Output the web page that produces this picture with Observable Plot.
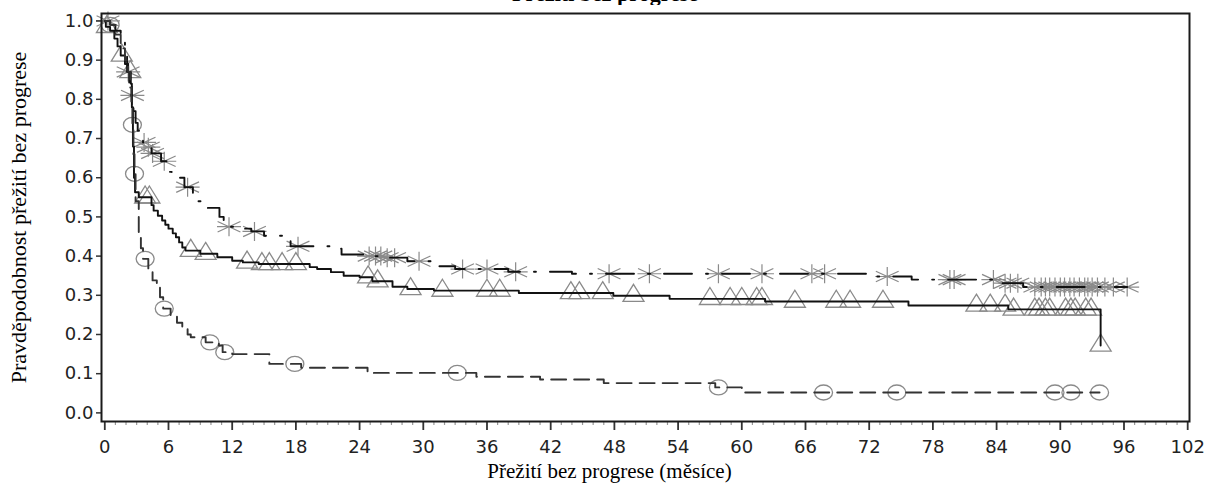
<!DOCTYPE html>
<html><head><meta charset="utf-8">
<script src="https://cdn.jsdelivr.net/npm/d3@7"></script>
<script src="https://cdn.jsdelivr.net/npm/@observablehq/plot@0.6"></script>
<style>
body{margin:0;background:#fff;width:1206px;height:486px;overflow:hidden;position:relative}
#title{position:absolute;left:0;top:0;width:1206px;height:5px;overflow:hidden;z-index:2}
#title span{position:absolute;left:512px;top:-19px;font:bold 22px "Liberation Serif";white-space:nowrap;color:#000}
#chart svg{display:block}
</style></head><body>
<div id="title"><span>Přežití bez progrese</span></div>
<div id="chart"></div>
<script>
// ---- data (months, survival probability) ----
const groups = ["trojúhelník", "hvězdička", "kroužek"];

const triTimes = [0,0.1,0.5,0.9,1.2,1.5,1.9,2.2,2.45,2.55,2.65,2.75,2.85,3.2,4.4,4.6,5.0,5.4,5.7,6.0,6.4,6.7,7.0,7.3,7.6,9.0,10.6,12.0,13.0,14.5,19.3,20.0,21.3,22.5,24.0,25.2,27.1,28.5,31.0,39.0,47.9,53.2,62.2,75.7,85.1,93.8];
const triSurv  = [1,0.985,0.975,0.955,0.935,0.912,0.89,0.87,0.84,0.78,0.68,0.6,0.563,0.55,0.53,0.516,0.503,0.491,0.48,0.47,0.458,0.448,0.435,0.422,0.414,0.406,0.397,0.388,0.384,0.38,0.372,0.367,0.359,0.35,0.346,0.336,0.322,0.316,0.312,0.306,0.299,0.291,0.284,0.274,0.264,0.172];
const triEnd = 93.8;
const triCensored = [0.2,1.6,2.4,3.8,4.2,8.1,9.5,13.4,14.8,15.5,16.7,18.0,24.8,25.7,28.8,31.8,36.0,37.2,43.9,44.7,46.9,49.8,57.0,58.9,60.0,61.4,61.9,65.0,68.9,70.2,73.3,82.1,83.4,84.8,85.6,87.6,88.0,88.6,89.0,90.5,91.0,91.4,92.4,92.9,93.8];

const starTimes = [0,0.5,1.0,1.5,1.9,2.1,2.3,2.5,2.7,2.9,3.1,3.3,3.6,4.0,4.4,5.3,5.85,6.3,7.5,8.3,8.6,9.5,10.8,11.2,11.6,12.5,13.8,15.0,17.5,21.5,22.3,24.5,26.5,28.5,31.5,33.0,38.0,44.0,72.0,76.0,84.5,86.5];
const starSurv  = [1,0.99,0.975,0.95,0.91,0.87,0.84,0.81,0.77,0.74,0.72,0.70,0.69,0.678,0.662,0.642,0.615,0.6,0.576,0.56,0.54,0.523,0.5,0.485,0.475,0.47,0.463,0.452,0.425,0.419,0.404,0.4,0.396,0.387,0.374,0.367,0.36,0.355,0.348,0.34,0.331,0.321];
const starEnd = 96.3;
const starCensored = [0.3,2.2,2.6,3.7,4.1,4.5,5.6,7.8,11.7,14.1,18.2,24.9,25.5,26.0,26.6,27.3,29.6,33.7,36.0,38.7,47.5,51.3,57.8,61.9,66.6,67.8,73.7,79.6,80.0,83.7,84.8,85.3,86.0,87.6,88.2,88.6,89.0,89.5,90.0,90.4,90.9,91.3,91.8,92.3,92.6,93.0,93.5,94.2,95.0,96.3];

const circTimes = [0,0.5,1.0,1.5,1.9,2.2,2.4,2.5,2.6,2.7,2.8,2.9,3.2,3.4,3.6,4.1,4.5,4.9,5.2,5.5,6.2,6.8,7.3,7.8,8.1,9.5,10.75,11.1,12.0,15.5,18.5,24.75,35.0,41.0,47.0,57.5,60.0];
const circSurv  = [1,0.99,0.965,0.93,0.9,0.87,0.83,0.78,0.735,0.66,0.61,0.54,0.45,0.42,0.393,0.368,0.338,0.33,0.295,0.266,0.248,0.23,0.218,0.2,0.193,0.18,0.172,0.155,0.15,0.125,0.115,0.102,0.092,0.085,0.076,0.065,0.052];
const circEnd = 93.7;
const circCensored = [0.5,2.6,2.8,3.8,5.6,9.9,11.3,17.9,33.2,57.8,67.7,74.6,89.5,91.0,93.7];

const xMajorTicks = [0,6,12,18,24,30,36,42,48,54,60,66,72,78,84,90,96,102];
const yTicks = [0,0.1,0.2,0.3,0.4,0.5,0.6,0.7,0.8,0.9,1.0];
const xLabel = "Přežití bez progrese (měsíce)";
const yLabel = "Pravděpodobnost přežití bez progrese";

// ---- helpers ----
function stepRows(times, surv, end) {
  const rows = times.map((t, i) => ({t, s: surv[i]}));
  if (end > times[times.length - 1]) rows.push({t: end, s: surv[surv.length - 1]});
  return rows;
}
function survAt(times, surv, t) {
  let s = surv[0];
  for (let i = 0; i < times.length; i++) if (times[i] <= t) s = surv[i];
  return s;
}
function censRows(cens, times, surv) {
  return cens.map(t => ({t, s: survAt(times, surv, t)}));
}
const minorTicks = d3.range(0, 103, 1).filter(d => d % 6 !== 0);

// custom (slightly wide) symbols
const ellipseSym = {draw(ctx) {
  const rx = 9, ry = 7.5, k = 0.5523;
  ctx.moveTo(rx, 0);
  ctx.bezierCurveTo(rx, ry*k, rx*k, ry, 0, ry);
  ctx.bezierCurveTo(-rx*k, ry, -rx, ry*k, -rx, 0);
  ctx.bezierCurveTo(-rx, -ry*k, -rx*k, -ry, 0, -ry);
  ctx.bezierCurveTo(rx*k, -ry, rx, -ry*k, rx, 0);
  ctx.closePath();
}};
const triSym = {draw(ctx) {
  const w = 10.5, h = 17;
  ctx.moveTo(0, -h*2/3);
  ctx.lineTo(w, h/3);
  ctx.lineTo(-w, h/3);
  ctx.closePath();
}};
const starSym = {draw(ctx) {
  const rx = 12, ry = 9.5;
  ctx.moveTo(0, -ry); ctx.lineTo(0, ry);
  ctx.moveTo(-rx, 0); ctx.lineTo(rx, 0);
  ctx.moveTo(-rx*0.95, -ry*0.55); ctx.lineTo(rx*0.95, ry*0.55);
  ctx.moveTo(-rx*0.95, ry*0.55); ctx.lineTo(rx*0.95, -ry*0.55);
}};

const markColor = "#8a8a8a";

const chart = Plot.plot({
  width: 1206,
  height: 486,
  marginLeft: 101,
  marginRight: 17,
  marginTop: 13,
  marginBottom: 65,
  style: {fontFamily: "DejaVu Sans", fontSize: "18px", color: "#222", background: "#fff"},
  x: {domain: [-0.31, 102.17]},
  y: {domain: [-0.022, 1.019]},
  marks: [
    // censor markers
    Plot.dot(censRows(triCensored, triTimes, triSurv), {x: "t", y: "s", symbol: triSym, r: 8, stroke: markColor, strokeWidth: 1.3, fill: "none"}),
    Plot.dot(censRows(starCensored, starTimes, starSurv), {x: "t", y: "s", symbol: starSym, r: 8, stroke: markColor, strokeWidth: 1.2, fill: "none"}),
    Plot.dot(censRows(circCensored, circTimes, circSurv), {x: "t", y: "s", symbol: ellipseSym, r: 8, stroke: markColor, strokeWidth: 1.3, fill: "none"}),
    // survival curves
    Plot.line(stepRows(triTimes, triSurv, triEnd), {x: "t", y: "s", curve: "step-after", stroke: "#111", strokeWidth: 1.9}),
    Plot.line(stepRows(starTimes, starSurv, starEnd), {x: "t", y: "s", curve: "step-after", stroke: "#111", strokeWidth: 1.9, strokeDasharray: "28,14,2,14"}),
    Plot.line(stepRows(circTimes, circSurv, circEnd), {x: "t", y: "s", curve: "step-after", stroke: "#333", strokeWidth: 1.9, strokeDasharray: "15,8"}),
    // axes
    Plot.axisY(yTicks, {tickFormat: d3.format(".1f"), tickSize: 5, tickPadding: 3, label: null, stroke: "#333", strokeWidth: 1.5, fontSize: 18}),
    Plot.axisX(minorTicks, {tickSize: 4, text: null, label: null, stroke: "#999", strokeWidth: 1.2}),
    Plot.axisX(xMajorTicks, {tickSize: 9, tickPadding: 10, label: null, stroke: "#333", strokeWidth: 1.8, fontSize: 18}),
    Plot.frame({stroke: "#1a1a1a", strokeWidth: 2}),
    // axis titles
    Plot.text([yLabel], {text: d => d, frameAnchor: "left", textAnchor: "middle", lineAnchor: "middle", rotate: -90, dx: -83, fontFamily: "Liberation Serif", fontSize: 22, fill: "#000"}),
    Plot.text([xLabel], {text: d => d, frameAnchor: "bottom", textAnchor: "middle", lineAnchor: "middle", dy: 50, dx: -36, fontFamily: "Liberation Serif", fontSize: 21, fill: "#000"})
  ]
});
document.getElementById("chart").appendChild(chart);
</script></body></html>
